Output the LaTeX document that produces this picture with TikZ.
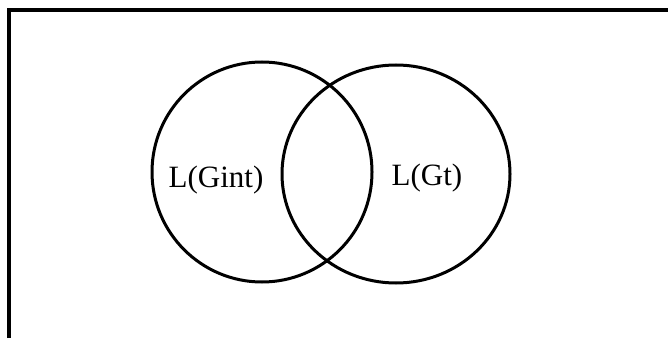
\documentclass[tikz,border=0pt]{standalone}
\usepackage{fontspec}
\setmainfont{Liberation Serif}
\usetikzlibrary{shapes.geometric}
\begin{document}
\begin{tikzpicture}[x=1pt,y=1pt,
  setcircle/.style={draw=black, line width=3pt, ellipse, inner sep=0pt},
  setlabel/.style={font=\fontsize{31}{31}\selectfont, inner sep=0pt}]
\useasboundingbox (0,0) rectangle (668,338);
% frame (top and left sides only)
\draw[line width=4pt] (8.5,0) -- (8.5,328) -- (668,328);
% sets
\node[setcircle, minimum width=220pt, minimum height=220pt] (gint) at (262,166) {};
\node[setcircle, minimum width=228pt, minimum height=218pt] (gt) at (396,164) {};
% labels
\node[setlabel] (lgint) at (216,158) {L(Gint)};
\node[setlabel] (lgt) at (427,160) {L(Gt)};
\end{tikzpicture}
\end{document}
